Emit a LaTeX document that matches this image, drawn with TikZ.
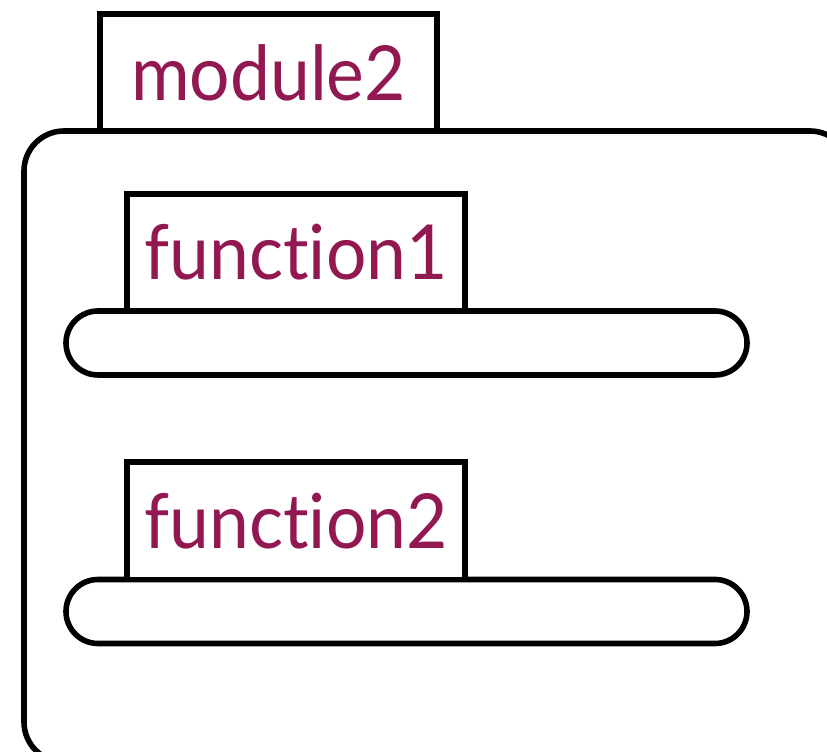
\documentclass[tikz,border=0pt]{standalone}
\usepackage{fontspec}
\setmainfont{Lato}[Ligatures=NoCommon,FakeStretch=0.94]
\usepackage{xcolor}
\usepackage{tikz}
\usetikzlibrary{positioning}
\definecolor{labelred}{RGB}{146,24,82}

\begin{document}
\begin{tikzpicture}[
box/.style={draw,rectangle,line width=0.14cm,outer sep=0pt,inner sep=0pt},
scope/.style={box,rounded corners=1cm,minimum width=20.65cm,minimum height=15.775cm},
tab/.style={box,fill=white,minimum width=8.45cm,minimum height=2.93cm,
    font=\fontsize{54}{60}\selectfont,text=labelred},
bar/.style={box,fill=white,rounded corners=0.8cm,minimum width=17.025cm,minimum height=1.6cm}]
\useasboundingbox (0,0) rectangle (20.675,18.8);
\clip (0,0) rectangle (20.675,18.8);
% outer module
\node (mod) [scope,anchor=north west] at (0.6,15.525) {};
\node (modtab) [tab,minimum width=8.425cm,above right=0cm and 1.9cm of mod.north west] {module2};
% functions
\node (fbar1) [bar,anchor=west] at (1.65,10.225) {};
\node (ftab1) [tab,above right=0cm and 1.525cm of fbar1.north west] {function1};
\node (fbar2) [bar,anchor=west] at (1.65,3.5125) {};
\node (ftab2) [tab,above right=0cm and 1.525cm of fbar2.north west] {function2};
\end{tikzpicture}
\end{document}
